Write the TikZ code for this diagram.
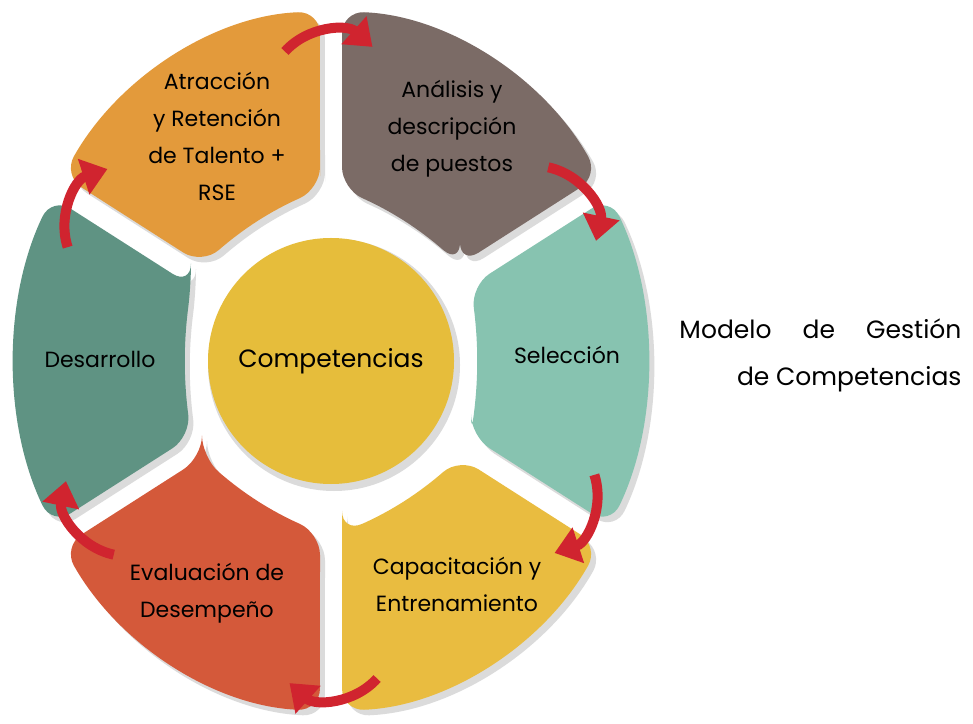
\documentclass[tikz,border=0pt]{standalone}
\usepackage{fontspec}
\setmainfont{Poppins}
\usepackage{tikz}
\usetikzlibrary{arrows.meta}

\definecolor{segorange}{HTML}{E39A3B}
\definecolor{segbrown}{HTML}{7B6B66}
\definecolor{seglight}{HTML}{87C3B0}
\definecolor{segyellow}{HTML}{E9BC40}
\definecolor{segred}{HTML}{D4593A}
\definecolor{segdark}{HTML}{5F9383}
\definecolor{coreyellow}{HTML}{E6BD3B}
\definecolor{arrowred}{HTML}{D0242F}

\tikzset{
  seglabel/.style={align=center, font=\fontsize{22}{37}\selectfont},
  looparrow/.style={arrowred, line width=10pt, -{Triangle[length=25pt,width=36pt]}},
}

% one piece of the ring, #1 = angle of its middle
\newcommand{\ringpiece}[1]{%
  ([shift={({#1+60}:11)}]{#1-30}:155.3) -- ({#1-28}:316)
  arc[start angle={#1-28}, end angle={#1+28}, radius=316]
  -- ([shift={({#1-60}:11)}]{#1+30}:155.3)
  to[bend left=8] ([shift={({#1+60}:11)}]{#1-30}:155.3) -- cycle}

\begin{document}
\begin{tikzpicture}[x=1pt, y=1pt]
  \useasboundingbox (0,0) rectangle (973,723);
  \fill[white] (0,0) rectangle (973,723);

  \begin{scope}[shift={(331,362)}, yscale=1.107]
    % shadows
    \foreach \ang in {120,60,0,-60,-120,180}
      \fill[black!14, rounded corners=22pt, xshift=5pt, yshift=-5pt] \ringpiece{\ang};
    % pieces
    \foreach \ang/\col in {120/segorange,60/segbrown,0/seglight,-60/segyellow,-120/segred,180/segdark}
      \fill[\col, rounded corners=22pt] \ringpiece{\ang};
  \end{scope}

  % arrows over the gaps
  \foreach \g/\r in {90/268,30/266,-30/266,-90/276,-150/266,150/266}
    \draw[looparrow] ({331+236*cos(\g)+62*cos(\g+48)},{362+\r*sin(\g)+62*sin(\g+48)})
      arc[start angle={\g+48}, end angle={\g-42}, radius=62];

  \fill[black!14] (334,358) circle (126);
  \node[circle, fill=coreyellow, minimum size=246pt, inner sep=0pt,
        font=\fontsize{25}{30}\selectfont] (core) at (331,362) {Competencias};

  \node[seglabel] (atraccion) at (217,587) {Atracción\\y Retención\\de Talento +\\RSE};
  \node[seglabel] (analisis) at (452,594) {Análisis y\\descripción\\de puestos};
  \node[seglabel] (seleccion) at (567,368) {Selección};
  \node[seglabel] (capacitacion) at (457,139) {Capacitación y\\Entrenamiento};
  \node[seglabel] (evaluacion) at (207,130) {Evaluación de\\Desempeño};
  \node[seglabel] (desarrollo) at (100,364) {Desarrollo};

  \node[anchor=base east, font=\fontsize{25}{30}\selectfont] (title1) at (965,384)
    {\makebox[282pt][s]{Modelo de Gestión}};
  \node[anchor=base east, font=\fontsize{25}{30}\selectfont] (title2) at (965,337)
    {de Competencias};
\end{tikzpicture}
\end{document}
